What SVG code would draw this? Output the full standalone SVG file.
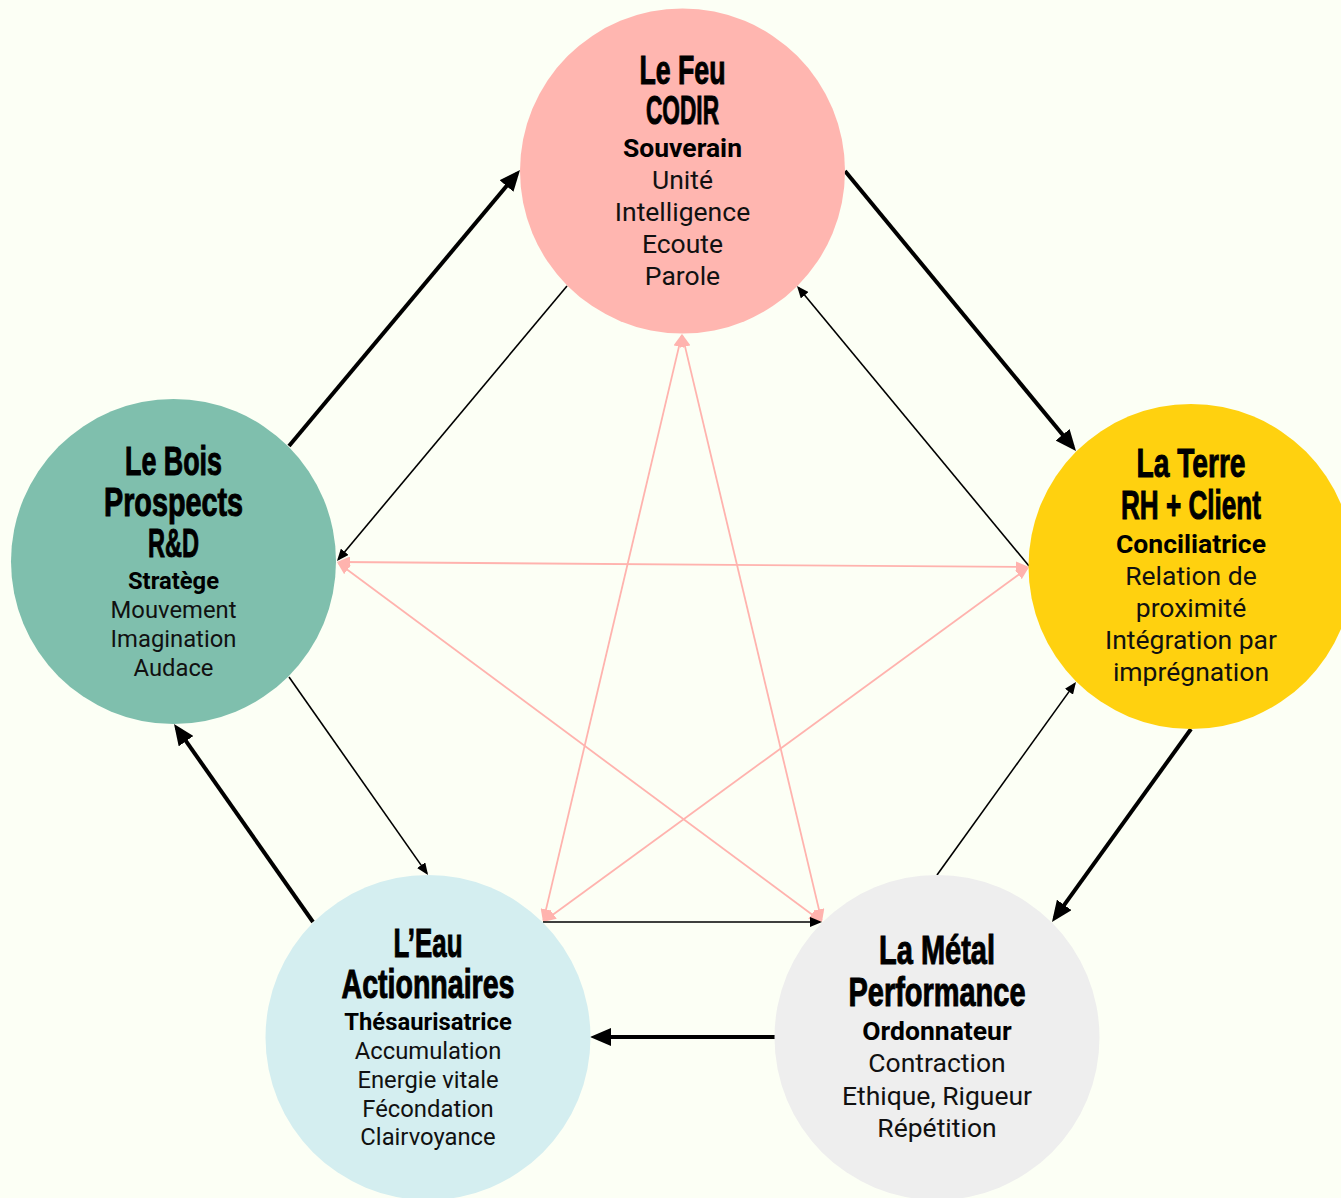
<svg xmlns="http://www.w3.org/2000/svg" width="1341" height="1198" viewBox="0 0 1341 1198">
  <style>
    .title { font-family: "Liberation Sans", Arial, sans-serif; font-weight: bold; font-size: 40px; fill: #000; stroke: #000; stroke-width: 1; text-anchor: middle; }
    .role { font-family: Roboto, "Liberation Sans", sans-serif; font-weight: bold; fill: #000; text-anchor: middle; }
    .body { font-family: Roboto, "Liberation Sans", sans-serif; fill: #111; text-anchor: middle; }
    .big { font-size: 26.5px; }
    .small { font-size: 23.8px; }
    .thick { stroke: #000; stroke-width: 4; fill: none; marker-end: url(#headThick); }
    .thin { stroke: #000; stroke-width: 1.6; fill: none; marker-end: url(#headThin); }
    .pink { stroke: #ffb3ae; stroke-width: 1.8; fill: none; marker-start: url(#headPink); marker-end: url(#headPink); }
  </style>
  <defs>
    <marker id="headThick" markerUnits="userSpaceOnUse" viewBox="0 0 21 18" refX="16" refY="9" markerWidth="21" markerHeight="18" orient="auto">
      <path d="M0,0 L21,9 L0,18 z" fill="#000"/>
    </marker>
    <marker id="headThin" markerUnits="userSpaceOnUse" viewBox="0 0 12 10" refX="10" refY="5" markerWidth="12" markerHeight="10" orient="auto">
      <path d="M0,0 L12,5 L0,10 z" fill="#000"/>
    </marker>
    <marker id="headPink" markerUnits="userSpaceOnUse" viewBox="0 0 13 11" refX="11" refY="5.5" markerWidth="13" markerHeight="11" orient="auto-start-reverse">
      <path d="M0,0 L13,5.5 L0,11 z" fill="#ffb3ae"/>
    </marker>
  </defs>

  <rect width="1341" height="1198" fill="#fcfff5"/>

  <!-- connectors -->
  <g id="connectors">
    <!-- pentagram links, both directions -->
    <line class="pink" x1="339" y1="562" x2="1027" y2="567"/>
    <line class="pink" x1="681.5" y1="335.9" x2="543.5" y2="920.1"/>
    <line class="pink" x1="682.5" y1="335.9" x2="821.5" y2="920.1"/>
    <line class="pink" x1="338.6" y1="563.2" x2="820.4" y2="920.8"/>
    <line class="pink" x1="1027.4" y1="568.2" x2="544.6" y2="920.8"/>

    <!-- generating cycle -->
    <line class="thick" x1="289" y1="446" x2="516.8" y2="173.8"/>
    <line class="thick" x1="845" y1="171" x2="1072.8" y2="447.1"/>
    <line class="thick" x1="1191" y1="729" x2="1054.9" y2="917.9"/>
    <line class="thick" x1="775" y1="1037" x2="595" y2="1037"/>
    <line class="thick" x1="313" y1="922" x2="176.9" y2="728.1"/>

    <!-- return cycle -->
    <line class="thin" x1="567" y1="286" x2="338.3" y2="559.5"/>
    <line class="thin" x1="1029" y1="566" x2="798.3" y2="287.5"/>
    <line class="thin" x1="289" y1="677" x2="426.9" y2="873.4"/>
    <line class="thin" x1="937" y1="875" x2="1074.8" y2="683.6"/>
    <line class="thin" x1="543" y1="922" x2="820" y2="922"/>
  </g>

  <!-- Fire -->
  <g id="feu">
    <circle cx="682.5" cy="171" r="162.5" fill="#ffb6b0"/>
    <text class="title" x="682.5" y="84" textLength="86" lengthAdjust="spacingAndGlyphs">Le Feu</text>
    <text class="title" x="682.5" y="124" textLength="73" lengthAdjust="spacingAndGlyphs">CODIR</text>
    <text class="role big" x="682.5" y="157">Souverain</text>
    <text class="body big" x="682.5" y="189">Unité</text>
    <text class="body big" x="682.5" y="221">Intelligence</text>
    <text class="body big" x="682.5" y="253">Ecoute</text>
    <text class="body big" x="682.5" y="285">Parole</text>
  </g>

  <!-- Earth -->
  <g id="terre">
    <circle cx="1191" cy="566.5" r="162.5" fill="#ffd10f"/>
    <text class="title" x="1191" y="477" textLength="109" lengthAdjust="spacingAndGlyphs">La Terre</text>
    <text class="title" x="1191" y="519" textLength="140" lengthAdjust="spacingAndGlyphs">RH + Client</text>
    <text class="role big" x="1191" y="553">Conciliatrice</text>
    <text class="body big" x="1191" y="585">Relation de</text>
    <text class="body big" x="1191" y="617">proximité</text>
    <text class="body big" x="1191" y="649">Intégration par</text>
    <text class="body big" x="1191" y="681">imprégnation</text>
  </g>

  <!-- Wood -->
  <g id="bois">
    <circle cx="173.5" cy="561.5" r="162.5" fill="#7fbfad"/>
    <text class="title" x="173.5" y="475" textLength="97" lengthAdjust="spacingAndGlyphs">Le Bois</text>
    <text class="title" x="173.5" y="516" textLength="139" lengthAdjust="spacingAndGlyphs">Prospects</text>
    <text class="title" x="173.5" y="557" textLength="51" lengthAdjust="spacingAndGlyphs">R&amp;D</text>
    <text class="role small" x="173.5" y="589">Stratège</text>
    <text class="body small" x="173.5" y="618">Mouvement</text>
    <text class="body small" x="173.5" y="647">Imagination</text>
    <text class="body small" x="173.5" y="676">Audace</text>
  </g>

  <!-- Water -->
  <g id="eau">
    <circle cx="428" cy="1037.5" r="162.5" fill="#d4eef0"/>
    <text class="title" x="428" y="957" textLength="69" lengthAdjust="spacingAndGlyphs">L’Eau</text>
    <text class="title" x="428" y="998" textLength="173" lengthAdjust="spacingAndGlyphs">Actionnaires</text>
    <text class="role small" x="428" y="1030">Thésaurisatrice</text>
    <text class="body small" x="428" y="1059">Accumulation</text>
    <text class="body small" x="428" y="1088">Energie vitale</text>
    <text class="body small" x="428" y="1117">Fécondation</text>
    <text class="body small" x="428" y="1145">Clairvoyance</text>
  </g>

  <!-- Metal -->
  <g id="metal">
    <circle cx="937" cy="1037.5" r="162.5" fill="#eeeeee"/>
    <text class="title" x="937" y="964" textLength="116" lengthAdjust="spacingAndGlyphs">La Métal</text>
    <text class="title" x="937" y="1006" textLength="177" lengthAdjust="spacingAndGlyphs">Performance</text>
    <text class="role big" x="937" y="1040">Ordonnateur</text>
    <text class="body big" x="937" y="1072">Contraction</text>
    <text class="body big" x="937" y="1105">Ethique, Rigueur</text>
    <text class="body big" x="937" y="1137">Répétition</text>
  </g>
</svg>
